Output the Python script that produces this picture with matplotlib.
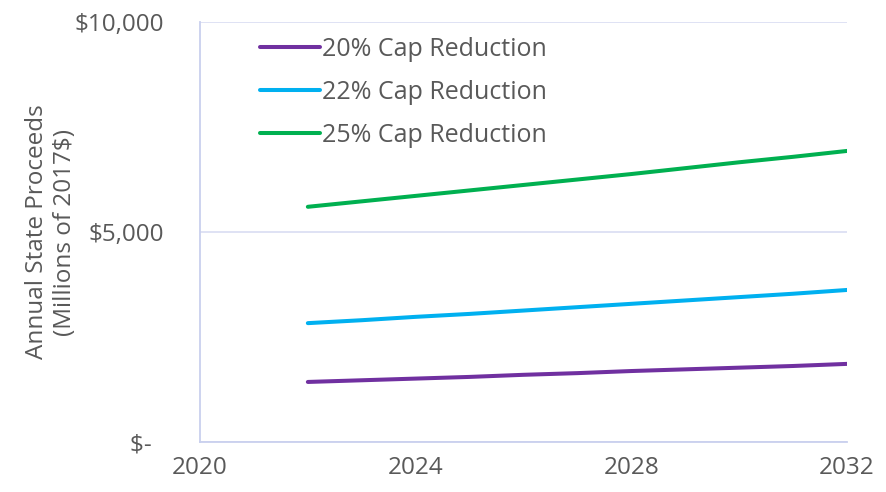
import matplotlib
matplotlib.use("Agg")
import matplotlib.pyplot as plt
from matplotlib.ticker import FixedLocator

years = [2022, 2023, 2024, 2025, 2026, 2027, 2028, 2029, 2030, 2031, 2032]
cap20 = [1430, 1470, 1510, 1550, 1600, 1640, 1690, 1730, 1770, 1810, 1860]
cap22 = [2830, 2900, 2980, 3050, 3130, 3210, 3290, 3370, 3450, 3530, 3620]
cap25 = [5600, 5730, 5860, 5990, 6120, 6250, 6380, 6520, 6660, 6790, 6930]
series_names = ["20% Cap Reduction", "22% Cap Reduction", "25% Cap Reduction"]
colors = ["#7030A0", "#00B0F0", "#00B050"]
xticks = [2020, 2024, 2028, 2032]
yticks = [0, 5000, 10000]
ytick_labels = ["$-  ", "$5,000", "$10,000"]

plt.rcParams['font.family'] = ['Open Sans', 'DejaVu Sans']
txt = "#595959"
axc = "#C9D0EE"

fig = plt.figure(figsize=(8.87, 4.92), dpi=100)
ax = fig.add_axes([0.2255, 0.1016, 0.7294, 0.8537])

for vals, name, c in zip([cap20, cap22, cap25], series_names, colors):
    ax.plot(years, vals, color=c, lw=2.9, label=name, solid_capstyle='round')

ax.set_xlim(2020, 2032)
ax.set_ylim(0, 10000)
ax.xaxis.set_major_locator(FixedLocator(xticks))
ax.set_xticklabels([str(x) for x in xticks])
ax.set_yticks(yticks)
ax.set_yticklabels(ytick_labels)
ax.tick_params(axis='both', length=0, labelsize=17.5, colors=txt)
ax.tick_params(axis='x', pad=10)
ax.tick_params(axis='y', pad=26)

ax.grid(axis='y', color="#D9DDF2", lw=1.2)
ax.set_axisbelow(True)
for s in ['top', 'right']:
    ax.spines[s].set_visible(False)
for s in ['left', 'bottom']:
    ax.spines[s].set_color(axc)
    ax.spines[s].set_linewidth(1.3)

ax.set_ylabel("Annual State Proceeds\n(Millions of 2017$)", fontsize=17.5, color=txt,
              linespacing=1.25)
ax.yaxis.set_label_coords(-0.19, 0.5)

leg = ax.legend(loc='upper left', bbox_to_anchor=(0.07, 1.0), frameon=False,
                fontsize=18, handlelength=2.4, handletextpad=0.08,
                labelspacing=0.72, borderaxespad=0.2)
for t in leg.get_texts():
    t.set_color(txt)

fig.savefig("out.png", dpi=100)
